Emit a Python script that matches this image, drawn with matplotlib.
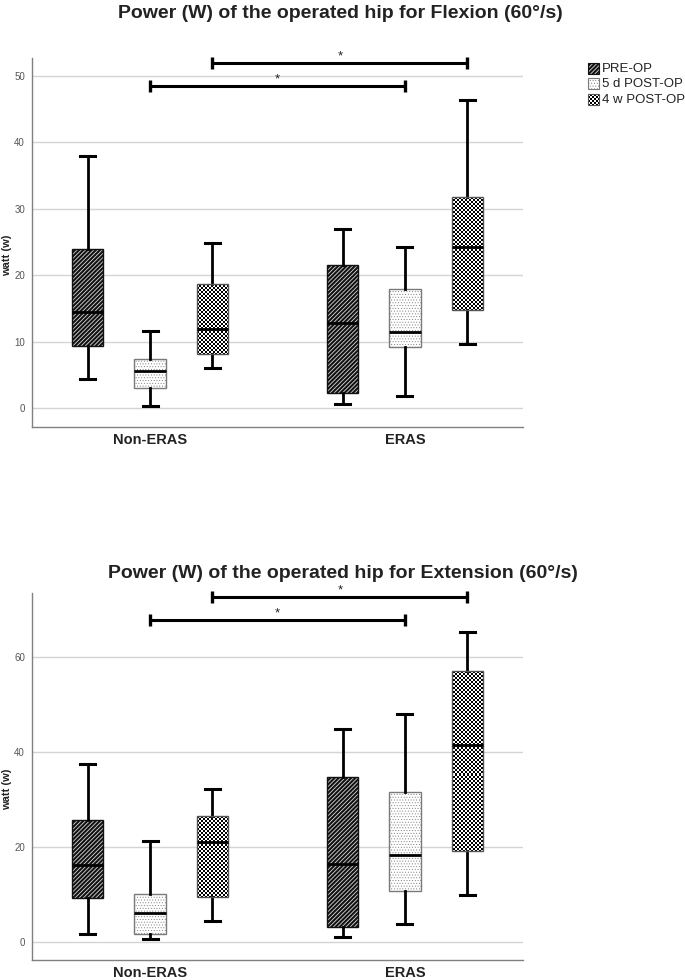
import numpy as np
import matplotlib
matplotlib.use("Agg")
import matplotlib.pyplot as plt
from matplotlib.patches import Rectangle

plt.rcParams['font.family'] = ['Liberation Sans', 'DejaVu Sans']
plt.rcParams['hatch.linewidth'] = 1.5

groups = ['Non-ERAS', 'ERAS']
times = ['PRE-OP', '5 d POST-OP', '4 w POST-OP']

# box order: Non-ERAS (PRE, 5d, 4w), ERAS (PRE, 5d, 4w)
flex_low = [4.3, 0.3, 6.0, 0.55, 1.8, 9.6]
flex_q1 = [9.4, 3.0, 8.1, 2.3, 9.2, 14.7]
flex_med = [14.4, 5.6, 11.9, 12.8, 11.5, 24.2]
flex_q3 = [23.9, 7.4, 18.7, 21.6, 17.9, 31.7]
flex_high = [37.9, 11.6, 24.8, 26.9, 24.3, 46.4]

ext_low = [1.6, 0.5, 4.4, 1.05, 3.7, 9.9]
ext_q1 = [9.2, 1.6, 9.5, 3.0, 10.6, 19.2]
ext_med = [16.2, 6.1, 21.1, 16.3, 18.3, 41.5]
ext_q3 = [25.7, 10.0, 26.5, 34.7, 31.6, 57.2]
ext_high = [37.6, 21.2, 32.3, 44.9, 48.0, 65.3]

# significance bars: (box a, box b, height)
flex_sig = [(1, 4, 48.5), (2, 5, 51.9)]
ext_sig = [(1, 4, 67.9), (2, 5, 72.7)]

fig = plt.figure(figsize=(6.85, 9.8), dpi=100)
W, H = 685, 980

STRIPES = '////////'
DOTS = '......'


def px_axes(l, r, t, b):
    return fig.add_axes([l / W, 1 - b / H, (r - l) / W, (b - t) / H])


def checker(ax, clip, sq=2, z=1.9):
    # checkerboard image aligned to the pixel grid, clipped to a patch
    xr = ax.get_xlim()
    yr = ax.get_ylim()
    bb = ax.bbox
    x0, y0 = np.floor(bb.x0), np.floor(bb.y0)
    nx = int(np.ceil(bb.width / sq)) + 2
    ny = int(np.ceil(bb.height / sq)) + 2
    inv = ax.transData.inverted()
    (dx0, dy0) = inv.transform((x0, y0))
    (dx1, dy1) = inv.transform((x0 + nx * sq, y0 + ny * sq))
    arr = np.add.outer(np.arange(ny), np.arange(nx)) % 2
    im = ax.imshow(arr, cmap='gray', vmin=0, vmax=1, origin='lower',
                   extent=[dx0, dx1, dy0, dy1], aspect='auto',
                   interpolation='none', zorder=z)
    im.set_clip_path(clip)
    ax.set_xlim(xr)
    ax.set_ylim(yr)
    return im


def set_hlw(p, lw):
    if hasattr(p, 'set_hatch_linewidth'):
        p.set_hatch_linewidth(lw)


def style_pre(p):
    p.set_facecolor('#d6d6d6')
    p.set_edgecolor('#111111')
    p.set_hatch(STRIPES)
    set_hlw(p, 1.5)


def style_5d(p):
    p.set_facecolor('white')
    p.set_edgecolor('#7a7a7a')
    p.set_hatch(DOTS)
    set_hlw(p, 0.35)


def draw(ax, low, q1, med, q3, high, sig, ylim, yticks):
    stats = [dict(whislo=a, q1=b, med=c, q3=d, whishi=e, fliers=[])
             for a, b, c, d, e in zip(low, q1, med, q3, high)]
    pos = [g + (t - 1) * 0.245 for g in range(len(groups)) for t in range(len(times))]
    ax.set_xlim(-0.463, 1.463)
    ax.set_ylim(*ylim)
    bp = ax.bxp(stats, positions=pos, widths=0.122, capwidths=0.059,
                patch_artist=True, showfliers=False, manage_ticks=False,
                boxprops=dict(lw=1, edgecolor='#555555'),
                medianprops=dict(color='black', lw=2, zorder=3),
                whiskerprops=dict(color='black', lw=2),
                capprops=dict(color='black', lw=2.2))
    for i, box in enumerate(bp['boxes']):
        t = i % 3
        if t == 0:
            style_pre(box)
        elif t == 1:
            style_5d(box)
        else:
            box.set_facecolor('none')
            box.set_edgecolor('#555555')
            box.set_zorder(2.5)
            checker(ax, box)
    ax.set_xlim(-0.463, 1.463)
    ax.set_ylim(*ylim)

    for a, b, h in sig:
        ax.plot([pos[a], pos[b]], [h, h], color='black', lw=2.2, marker='|',
                ms=8, mew=2.4, clip_on=False, solid_capstyle='butt')
        ax.text((pos[a] + pos[b]) / 2, h + 0.1 * (ylim[1] - ylim[0]) / 50, '*',
                ha='center', va='bottom', fontsize=9.5, color='#222222')

    ax.set_yticks(yticks)
    ax.set_xticks(range(len(groups)))
    ax.set_xticklabels(groups, fontsize=10.5, fontweight='bold', color='#222222')
    ax.tick_params(axis='y', length=0, pad=5, labelsize=7, labelcolor='#555555')
    ax.tick_params(axis='x', length=0, pad=4)
    ax.yaxis.grid(True, color='#d4d4d4', lw=1)
    ax.set_axisbelow(True)
    for s in ['top', 'right']:
        ax.spines[s].set_visible(False)
    for s in ['left', 'bottom']:
        ax.spines[s].set_color('#808080')
        ax.spines[s].set_linewidth(1)
    ax.set_ylabel('watt (w)', fontsize=8, fontweight='bold', color='#222222')
    ax.yaxis.set_label_coords(-0.041, 0.465)


ax1 = px_axes(32, 523, 58, 427)
draw(ax1, flex_low, flex_q1, flex_med, flex_q3, flex_high, flex_sig,
     (-2.86, 52.7), [0, 10, 20, 30, 40, 50])
ax2 = px_axes(32, 523, 593, 960)
draw(ax2, ext_low, ext_q1, ext_med, ext_q3, ext_high, ext_sig,
     (-3.86, 73.6), [0, 20, 40, 60])

fig.text(0.497, 1 - 14 / H, 'Power (W) of the operated hip for Flexion (60°/s)',
         ha='center', va='center', fontsize=14, fontweight='bold', color='#222222')
fig.text(0.5, 1 - 573 / H, 'Power (W) of the operated hip for Extension (60°/s)',
         ha='center', va='center', fontsize=14, fontweight='bold', color='#222222')

# legend (drawn by hand so the checker fill can be shown)
lax = px_axes(586, 685, 60, 108)
lax.set_xlim(0, 99)
lax.set_ylim(48, 0)
lax.axis('off')
row_y = [9, 24, 40]
for k, name in enumerate(times):
    y0 = row_y[k] - 5.5
    r = Rectangle((2, y0), 11, 11, lw=0.8)
    if k == 0:
        style_pre(r)
    elif k == 1:
        style_5d(r)
    else:
        r.set_facecolor('none')
        r.set_edgecolor('#555555')
        r.set_zorder(3)
    lax.add_patch(r)
    if k == 2:
        checker(lax, r)
    lax.text(16, row_y[k], name, ha='left', va='center', fontsize=9.5,
             color='#222222')

plt.savefig('out.png', dpi=100)
